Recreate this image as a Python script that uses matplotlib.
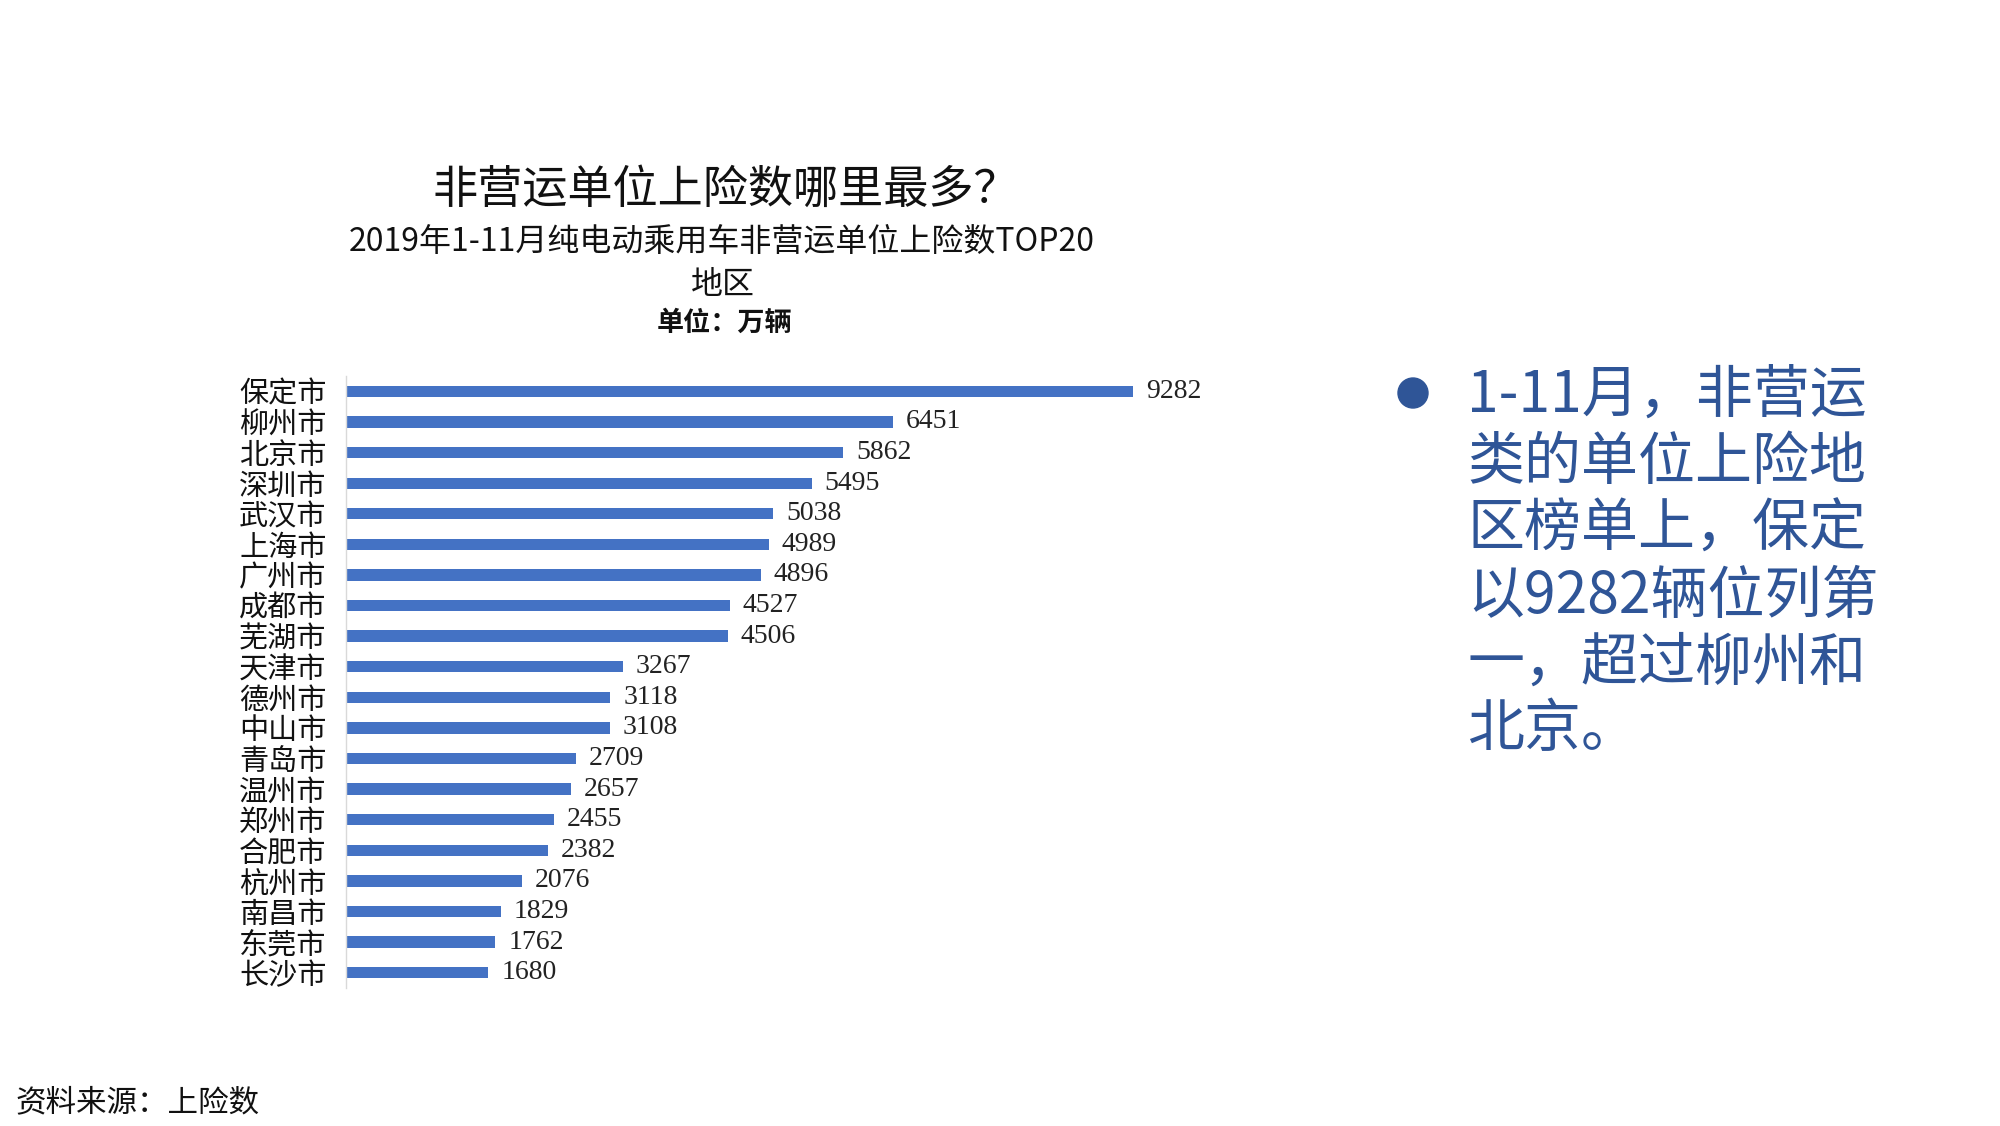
import matplotlib
matplotlib.use("Agg")
import matplotlib.pyplot as plt

plt.rcParams['font.family'] = ['Noto Sans CJK SC', 'DejaVu Sans']

# data: city and number of registrations (non-commercial units)
cities = ['保定市', '柳州市', '北京市', '深圳市', '武汉市', '上海市', '广州市', '成都市', '芜湖市', '天津市',
          '德州市', '中山市', '青岛市', '温州市', '郑州市', '合肥市', '杭州市', '南昌市', '东莞市', '长沙市']
values = [9282, 6451, 5862, 5495, 5038, 4989, 4896, 4527, 4506, 3267,
          3118, 3108, 2709, 2657, 2455, 2382, 2076, 1829, 1762, 1680]

title = '非营运单位上险数哪里最多？'
subtitle1 = '2019年1-11月纯电动乘用车非营运单位上险数TOP20'
subtitle2 = '地区'
unit = '单位：万辆'
source = '资料来源：上险数'
note_lines = ['1-11月，非营运', '类的单位上险地', '区榜单上，保定',
              '以9282辆位列第', '一，超过柳州和', '北京。']

bar_color = '#4472C4'
text_blue = '#2F5597'

fig = plt.figure(figsize=(20, 11.26), dpi=100)
ax = fig.add_axes([0.173, 0.1226, 0.424, 0.5434])

y = list(range(len(cities)))
ax.barh(y, values, height=0.37, color=bar_color)
ax.set_ylim(len(cities) - 0.5, -0.5)
ax.set_xlim(0, 10000)
ax.set_yticks(y)
ax.set_yticklabels(cities, fontsize=21, color='#111111')
ax.tick_params(axis='y', length=0, pad=14)
ax.set_xticks([])
for s in ['top', 'right', 'bottom']:
    ax.spines[s].set_visible(False)
ax.spines['left'].set_color('#D9D9D9')
ax.spines['left'].set_linewidth(1)

for yi, v in zip(y, values):
    ax.text(v + 150, yi, str(v), va='center', ha='left', fontsize=20,
            family=['Liberation Serif', 'DejaVu Serif'], color='#222222')

fig.text(0.363, 1 - 190 / 1126, title, ha='center', va='center', fontsize=32.5, color='#111111')
fig.text(0.361, 1 - 242 / 1126, subtitle1, ha='center', va='center', fontsize=23, color='#111111')
fig.text(0.3615, 1 - 285 / 1126, subtitle2, ha='center', va='center', fontsize=23, color='#111111')
fig.text(0.3625, 1 - 323 / 1126, unit, ha='center', va='center', fontsize=19.5,
         fontweight='bold', color='#111111')

fig.text(0.0075, 1 - 1103 / 1126, source, ha='left', va='center', fontsize=22, color='#111111')

# bullet note on the right
fig.patches.append(matplotlib.patches.Ellipse((1413 / 2000, 1 - 393 / 1126), 30 / 2000, 30 / 1126,
                                              transform=fig.transFigure, color=text_blue))
line_y = [395, 463, 529, 597, 663, 730]
for ly, line in zip(line_y, note_lines):
    fig.text(1467 / 2000, 1 - ly / 1126, line, ha='left', va='center', fontsize=41, color=text_blue)

fig.savefig('out.png', dpi=100, facecolor='white')
